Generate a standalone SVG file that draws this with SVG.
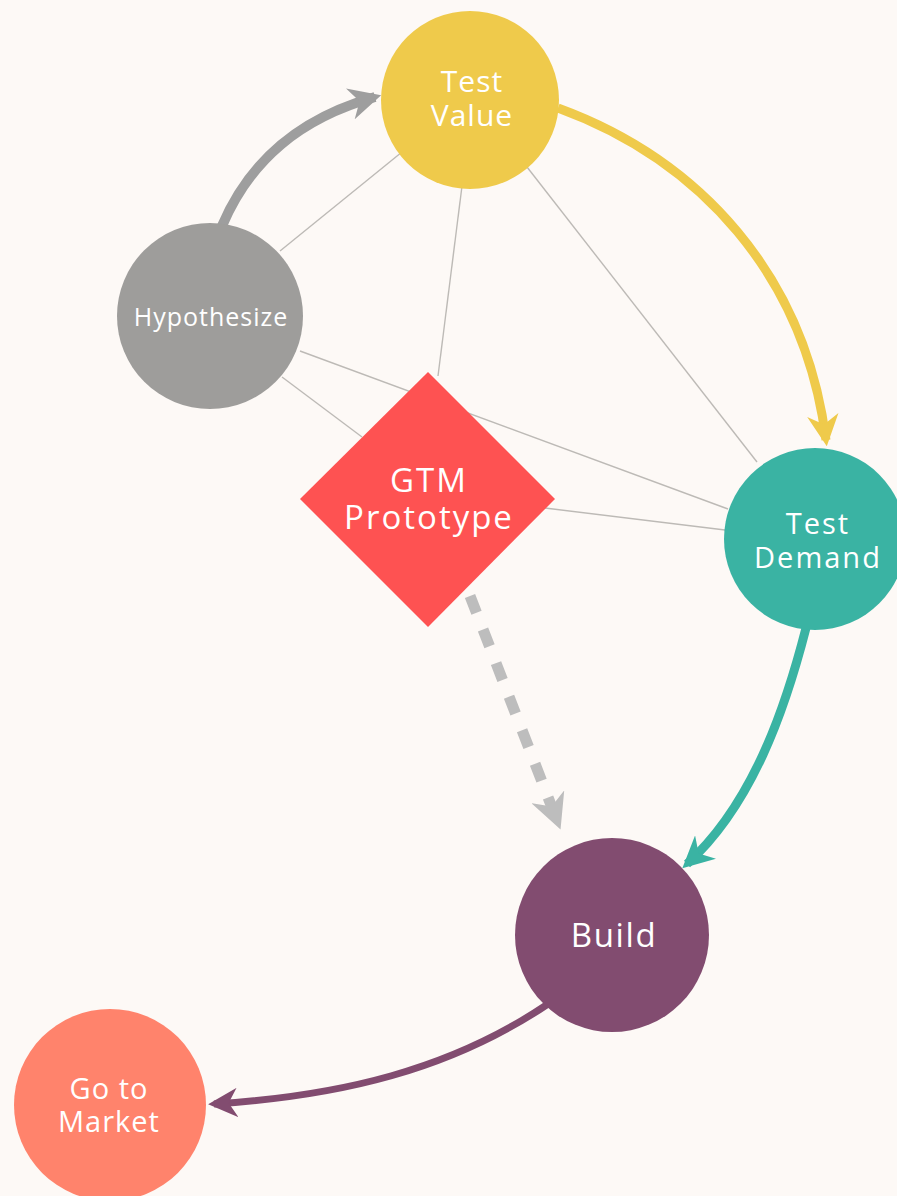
<svg xmlns="http://www.w3.org/2000/svg" width="897" height="1196" viewBox="0 0 897 1196">
  <style>
    .lbl { font-family: "Open Sans", "Noto Sans", "Liberation Sans", sans-serif; fill: #ffffff; text-anchor: middle; }
    .thin { stroke: #bdbab6; stroke-width: 1.4; fill: none; }
    .flow { fill: none; stroke-linecap: butt; }
  </style>
  <defs>
    <marker id="ahGray" viewBox="0 0 10 10" refX="8" refY="5" markerWidth="3.2" markerHeight="3.2" orient="auto" markerUnits="strokeWidth">
      <path d="M0,0 L10,5 L0,10 L3,5 Z" fill="#9e9e9e"/>
    </marker>
    <marker id="ahYellow" viewBox="0 0 10 10" refX="8" refY="5" markerWidth="3.5" markerHeight="3.5" orient="auto" markerUnits="strokeWidth">
      <path d="M0,0 L10,5 L0,10 L3,5 Z" fill="#efca4b"/>
    </marker>
    <marker id="ahTeal" viewBox="0 0 10 10" refX="8" refY="5" markerWidth="3.5" markerHeight="3.5" orient="auto" markerUnits="strokeWidth">
      <path d="M0,0 L10,5 L0,10 L3,5 Z" fill="#3ab3a3"/>
    </marker>
    <marker id="ahPurple" viewBox="0 0 10 10" refX="8" refY="5" markerWidth="4.2" markerHeight="4.2" orient="auto" markerUnits="strokeWidth">
      <path d="M0,0 L10,5 L0,10 L3,5 Z" fill="#824c70"/>
    </marker>
    <marker id="ahDash" viewBox="0 0 10 10" refX="8" refY="5" markerWidth="3.2" markerHeight="3.2" orient="auto" markerUnits="strokeWidth">
      <path d="M0,0 L10,5 L0,10 L3,5 Z" fill="#bdbdbd"/>
    </marker>
  </defs>

  <rect width="897" height="1196" fill="#fdf9f6"/>

  <!-- thin relation lines -->
  <g id="connectors">
    <line class="thin" x1="280" y1="251" x2="402" y2="152"/>
    <line class="thin" x1="462" y1="186" x2="438" y2="376"/>
    <line class="thin" x1="527" y1="167" x2="757" y2="462"/>
    <line class="thin" x1="300" y1="351" x2="728" y2="509"/>
    <line class="thin" x1="282" y1="377" x2="362" y2="437"/>
    <line class="thin" x1="545" y1="508" x2="725" y2="530"/>

    <!-- process flow arrows -->
    <path class="flow" d="M222,226 C250,160 300,118 375,97" stroke="#9e9e9e" stroke-width="10" marker-end="url(#ahGray)"/>
    <path class="flow" d="M558,108 C700,160 805,275 826,440" stroke="#efca4b" stroke-width="9" marker-end="url(#ahYellow)"/>
    <path class="flow" d="M806,628 C785,710 752,805 687,864" stroke="#3ab3a3" stroke-width="9" marker-end="url(#ahTeal)"/>
    <path class="flow" d="M470,596 L558,823" stroke="#bdbdbd" stroke-width="11" stroke-dasharray="18 18" stroke-linecap="round" marker-end="url(#ahDash)"/>
    <path class="flow" d="M548,1004 C450,1070 340,1096 214,1104" stroke="#824c70" stroke-width="7" marker-end="url(#ahPurple)"/>
  </g>

  <g id="hypothesize">
    <circle cx="210" cy="316" r="93" fill="#9e9d9b"/>
    <text class="lbl" x="211" y="326" font-size="25" letter-spacing="1">Hypothesize</text>
  </g>

  <g id="test-value">
    <circle cx="470" cy="100" r="89" fill="#efca4b"/>
    <text class="lbl" font-size="30" letter-spacing="1"><tspan x="472" y="92">Test</tspan><tspan x="472" y="126">Value</tspan></text>
  </g>

  <g id="gtm-prototype">
    <polygon points="428,372 555,499 428,627 300,499" fill="#fe5252"/>
    <text class="lbl" font-size="33" letter-spacing="2"><tspan x="429" y="492">GTM</tspan><tspan x="429" y="529">Prototype</tspan></text>
  </g>

  <g id="test-demand">
    <circle cx="815" cy="539" r="91" fill="#3ab3a3"/>
    <text class="lbl" font-size="29" letter-spacing="2"><tspan x="818" y="534">Test</tspan><tspan x="818" y="568">Demand</tspan></text>
  </g>

  <g id="build">
    <circle cx="612" cy="935" r="97" fill="#824c70"/>
    <text class="lbl" x="614" y="947" font-size="33" letter-spacing="1.6">Build</text>
  </g>

  <g id="go-to-market">
    <circle cx="110" cy="1105" r="96" fill="#ff836c"/>
    <text class="lbl" font-size="29" letter-spacing="1"><tspan x="109" y="1099">Go to</tspan><tspan x="109" y="1132">Market</tspan></text>
  </g>
</svg>
